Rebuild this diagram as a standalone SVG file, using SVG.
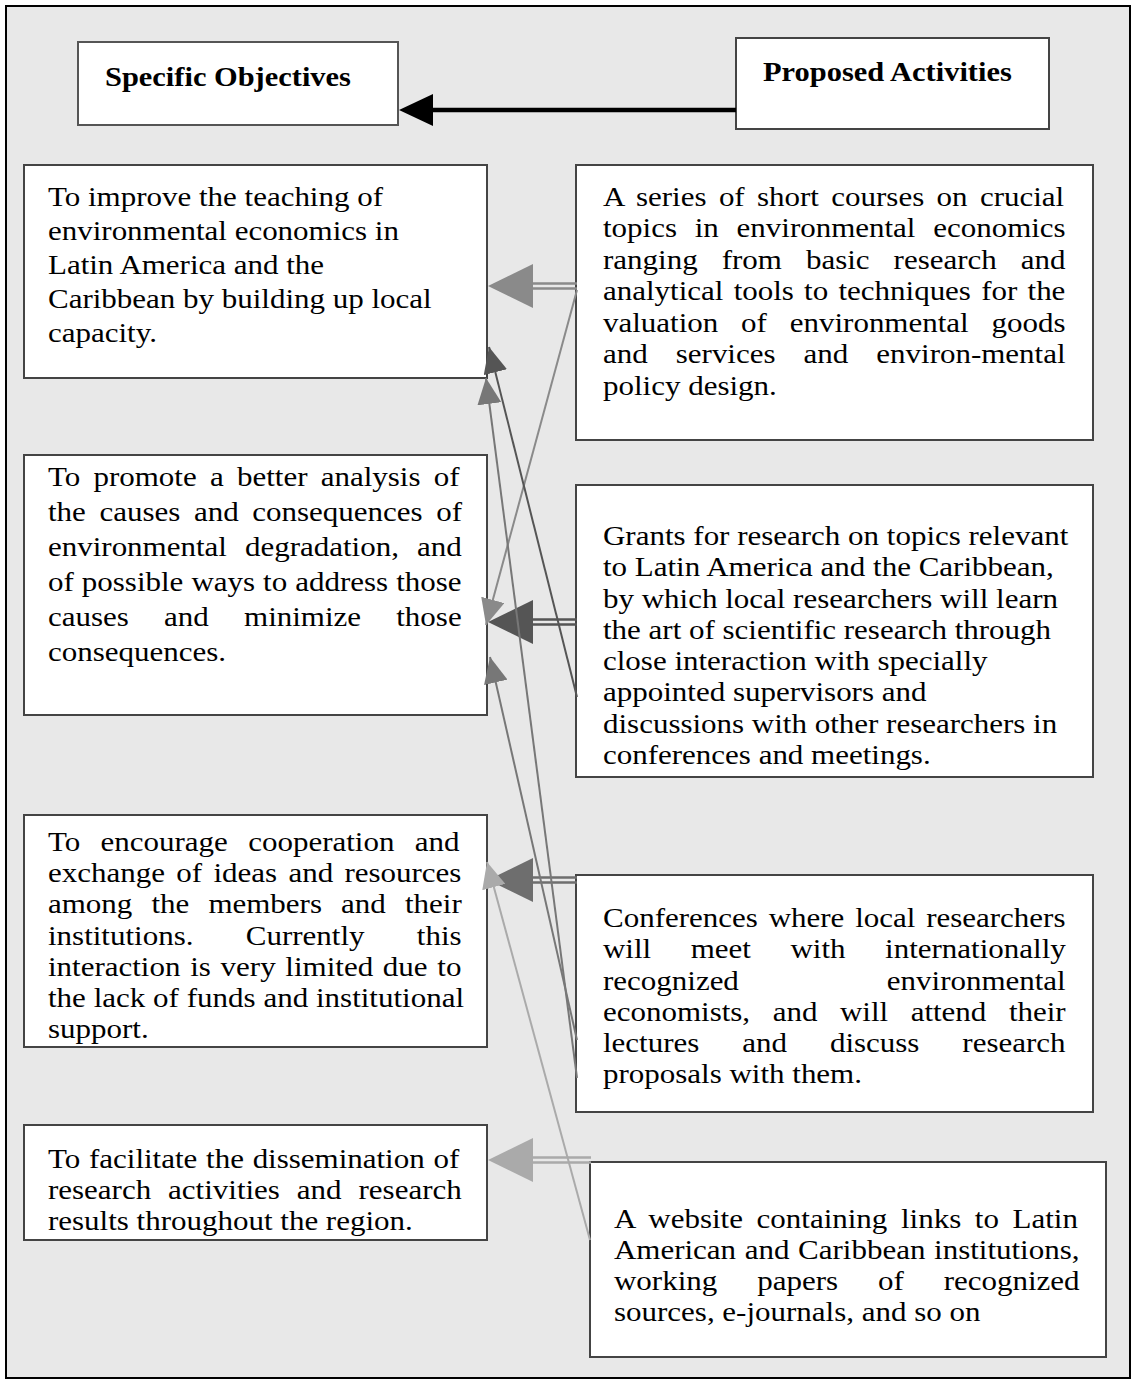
<svg xmlns="http://www.w3.org/2000/svg" width="1135" height="1384" viewBox="0 0 1135 1384">
<style>
.t{font-family:"Liberation Serif","Times New Roman",serif;font-size:28px;fill:#000}
.h{font-family:"Liberation Serif","Times New Roman",serif;font-size:27.5px;font-weight:bold;fill:#000}
.box{fill:#fff;stroke:#444;stroke-width:2}
.hbox{fill:#fff;stroke:#555;stroke-width:2}
.thin{fill:none;stroke-width:2}
.dbl{fill:none;stroke-width:2.5}
</style>
<defs>
<marker id="mA" viewBox="0 0 26 24" markerWidth="26" markerHeight="24" refX="26" refY="12" orient="auto" markerUnits="userSpaceOnUse"><path d="M0,0 L26,12 L0,24 z" fill="#8a8a8a"/></marker>
<marker id="mB" viewBox="0 0 26 24" markerWidth="26" markerHeight="24" refX="26" refY="12" orient="auto" markerUnits="userSpaceOnUse"><path d="M0,0 L26,12 L0,24 z" fill="#555"/></marker>
<marker id="mC" viewBox="0 0 26 24" markerWidth="26" markerHeight="24" refX="26" refY="12" orient="auto" markerUnits="userSpaceOnUse"><path d="M0,0 L26,12 L0,24 z" fill="#777"/></marker>
<marker id="mD" viewBox="0 0 26 24" markerWidth="26" markerHeight="24" refX="26" refY="12" orient="auto" markerUnits="userSpaceOnUse"><path d="M0,0 L26,12 L0,24 z" fill="#aaa"/></marker>
</defs>
<rect x="6" y="6" width="1124" height="1372" fill="#e8e8e8" stroke="#000" stroke-width="2"/>

<g id="hdr-objectives">
<rect class="hbox" x="78" y="42" width="320" height="83"/>
<g transform="translate(105 0) scale(1.107 1) translate(-105 0)">
<text class="h" x="105" y="86">Specific Objectives</text>
</g>
</g>
<g id="hdr-activities">
<rect class="box" x="736" y="38" width="313" height="91"/>
<g transform="translate(763 0) scale(1.107 1) translate(-763 0)">
<text class="h" x="763" y="81">Proposed Activities</text>
</g>
</g>

<g id="obj1">
<rect class="box" x="24" y="165" width="463" height="213"/>
<g transform="translate(48 0) scale(1.107 1) translate(-48 0)">
<text class="t" x="48" y="206">To improve the teaching of</text>
<text class="t" x="48" y="240">environmental economics in</text>
<text class="t" x="48" y="274">Latin America and the</text>
<text class="t" x="48" y="308">Caribbean by building up local</text>
<text class="t" x="48" y="342">capacity.</text>
</g>
</g>
<g id="act1">
<rect class="box" x="576" y="165" width="517" height="275"/>
<g transform="translate(603 0) scale(1.107 1) translate(-603 0)">
<text class="t" x="603" y="206" word-spacing="4.16">A series of short courses on crucial</text>
<text class="t" x="603" y="237.5" word-spacing="9.03">topics in environmental economics</text>
<text class="t" x="603" y="269" word-spacing="14.72">ranging from basic research and</text>
<text class="t" x="603" y="300.5" word-spacing="2.26">analytical tools to techniques for the</text>
<text class="t" x="603" y="332" word-spacing="13.64">valuation of environmental goods</text>
<text class="t" x="603" y="363.5" word-spacing="18.34">and services and environ-mental</text>
<text class="t" x="603" y="395">policy design.</text>
</g>
</g>

<g id="obj2">
<rect class="box" x="24" y="455" width="463" height="260"/>
<g transform="translate(48 0) scale(1.107 1) translate(-48 0)">
<text class="t" x="48" y="486" word-spacing="4.97">To promote a better analysis of</text>
<text class="t" x="48" y="521" word-spacing="5.33">the causes and consequences of</text>
<text class="t" x="48" y="556" word-spacing="9.3">environmental degradation, and</text>
<text class="t" x="48" y="591" word-spacing="0.27">of possible ways to address those</text>
<text class="t" x="48" y="626" word-spacing="24.84">causes and minimize those</text>
<text class="t" x="48" y="661">consequences.</text>
</g>
</g>
<g id="act2">
<rect class="box" x="576" y="485" width="517" height="292"/>
<g transform="translate(603 0) scale(1.107 1) translate(-603 0)">
<text class="t" x="603" y="545">Grants for research on topics relevant</text>
<text class="t" x="603" y="576.3">to Latin America and the Caribbean,</text>
<text class="t" x="603" y="607.6">by which local researchers will learn</text>
<text class="t" x="603" y="638.9">the art of scientific research through</text>
<text class="t" x="603" y="670.2">close interaction with specially</text>
<text class="t" x="603" y="701.5">appointed supervisors and</text>
<text class="t" x="603" y="732.8">discussions with other researchers in</text>
<text class="t" x="603" y="764.1">conferences and meetings.</text>
</g>
</g>

<g id="obj3">
<rect class="box" x="24" y="815" width="463" height="232"/>
<g transform="translate(48 0) scale(1.107 1) translate(-48 0)">
<text class="t" x="48" y="851" word-spacing="11.38">To encourage cooperation and</text>
<text class="t" x="48" y="882.2" word-spacing="3.25">exchange of ideas and resources</text>
<text class="t" x="48" y="913.4" word-spacing="10.3">among the members and their</text>
<text class="t" x="48" y="944.6" word-spacing="40.29">institutions. Currently this</text>
<text class="t" x="48" y="975.8" word-spacing="1.81">interaction is very limited due to</text>
<text class="t" x="48" y="1007" word-spacing="0.09">the lack of funds and institutional</text>
<text class="t" x="48" y="1038.2">support.</text>
</g>
</g>
<g id="act3">
<rect class="box" x="576" y="875" width="517" height="237"/>
<g transform="translate(603 0) scale(1.107 1) translate(-603 0)">
<text class="t" x="603" y="927" word-spacing="2.8">Conferences where local researchers</text>
<text class="t" x="603" y="958" word-spacing="28.73">will meet with internationally</text>
<text class="t" x="603" y="990" word-spacing="126.65">recognized environmental</text>
<text class="t" x="603" y="1021" word-spacing="13.37">economists, and will attend their</text>
<text class="t" x="603" y="1052" word-spacing="31.8">lectures and discuss research</text>
<text class="t" x="603" y="1083">proposals with them.</text>
</g>
</g>

<g id="obj4">
<rect class="box" x="24" y="1125" width="463" height="115"/>
<g transform="translate(48 0) scale(1.107 1) translate(-48 0)">
<text class="t" x="48" y="1168" word-spacing="0.9">To facilitate the dissemination of</text>
<text class="t" x="48" y="1199" word-spacing="8.31">research activities and research</text>
<text class="t" x="48" y="1230">results throughout the region.</text>
</g>
</g>
<g id="act4">
<rect class="box" x="590" y="1162" width="516" height="195"/>
<g transform="translate(614 0) scale(1.107 1) translate(-614 0)">
<text class="t" x="614" y="1228" word-spacing="5.33">A website containing links to Latin</text>
<text class="t" x="614" y="1259" word-spacing="0.81">American and Caribbean institutions,</text>
<text class="t" x="614" y="1290" word-spacing="29.09">working papers of recognized</text>
<text class="t" x="614" y="1321">sources, e-journals, and so on</text>
</g>
</g>

<g id="connectors">
<line x1="736" y1="110" x2="430" y2="110" stroke="#000" stroke-width="4.5"/>
<polygon points="399,110 433,94 433,126" fill="#000"/>

<line class="dbl" x1="533" y1="283.5" x2="577" y2="283.5" stroke="#8a8a8a"/>
<line class="dbl" x1="533" y1="288.5" x2="577" y2="288.5" stroke="#8a8a8a"/>
<polygon points="488,286 533,264 533,308" fill="#8a8a8a"/>

<line class="dbl" x1="533" y1="619.5" x2="577" y2="619.5" stroke="#555"/>
<line class="dbl" x1="533" y1="624.5" x2="577" y2="624.5" stroke="#555"/>
<polygon points="488,622 533,600 533,644" fill="#555"/>

<line class="dbl" x1="533" y1="877.5" x2="577" y2="877.5" stroke="#6e6e6e"/>
<line class="dbl" x1="533" y1="882.5" x2="577" y2="882.5" stroke="#6e6e6e"/>
<polygon points="488,880 533,858 533,902" fill="#6e6e6e"/>

<line class="dbl" x1="533" y1="1157.5" x2="591" y2="1157.5" stroke="#aaa"/>
<line class="dbl" x1="533" y1="1162.5" x2="591" y2="1162.5" stroke="#aaa"/>
<polygon points="488,1160 533,1138 533,1182" fill="#aaa"/>

<line class="thin" x1="577" y1="290" x2="486" y2="625" stroke="#8a8a8a" marker-end="url(#mA)"/>
<line class="thin" x1="577" y1="697" x2="489" y2="347" stroke="#555" marker-end="url(#mB)"/>
<line class="thin" x1="577" y1="1078" x2="486" y2="378" stroke="#777" marker-end="url(#mC)"/>
<line class="thin" x1="577" y1="1040" x2="490" y2="657" stroke="#777" marker-end="url(#mC)"/>
<line class="thin" x1="590" y1="1240" x2="487" y2="862" stroke="#aaa" marker-end="url(#mD)"/>
</g>
</svg>
